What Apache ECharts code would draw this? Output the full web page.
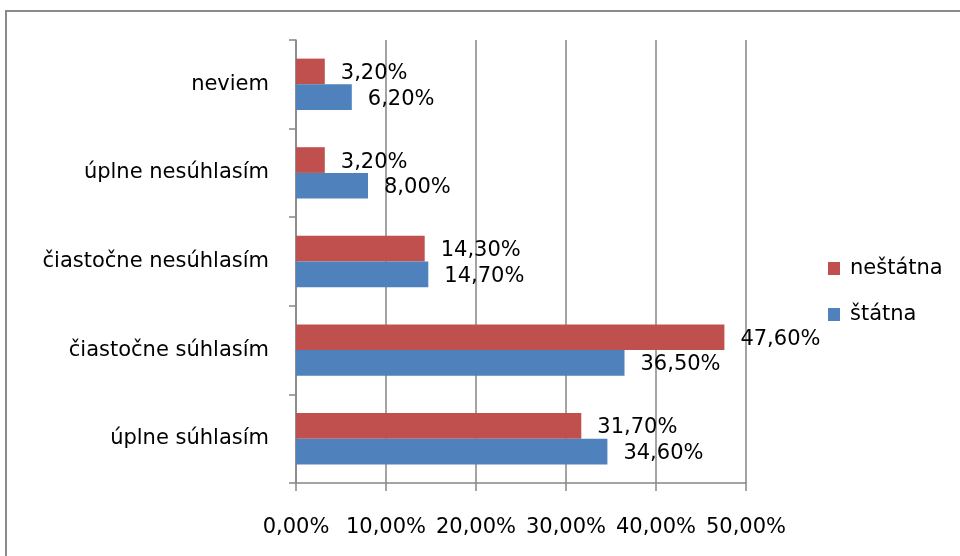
<!DOCTYPE html>
<html><head><meta charset="utf-8">
<script src="https://cdn.jsdelivr.net/npm/echarts@6/dist/echarts.min.js"></script>
<style>html,body{margin:0;padding:0;background:#fff}#c{width:960px;height:556px}</style>
</head><body><div id="c"></div>
<script>
const categories = ['úplne súhlasím', 'čiastočne súhlasím', 'čiastočne nesúhlasím', 'úplne nesúhlasím', 'neviem'];
const statna = [34.6, 36.5, 14.7, 8.0, 6.2];
const nestatna = [31.7, 47.6, 14.3, 3.2, 3.2];
const seriesNames = ['štátna', 'neštátna'];
const xTicks = [0, 10, 20, 30, 40, 50];

const FONT = 'DejaVu Sans';
const fmt = v => v.toFixed(2).replace('.', ',') + '%';
const chart = echarts.init(document.getElementById('c'), null, {renderer: 'canvas'});
const labelCfg = {
  show: true, position: 'right', distance: 16, offset: [0, 2],
  color: '#000', fontFamily: FONT, fontSize: 21,
  formatter: p => fmt(p.value)
};
chart.setOption({
  animation: false,
  backgroundColor: '#fff',
  graphic: [{
    type: 'rect', shape: {x: 6, y: 11, width: 1000, height: 600},
    style: {fill: 'none', stroke: '#8a8a8a', lineWidth: 2}, z: -1
  }],
  grid: {left: 296, right: 214, top: 40, bottom: 73, containLabel: false},
  legend: {
    data: [seriesNames[1], seriesNames[0]],
    orient: 'vertical', left: 823, top: 253, itemGap: 25,
    itemWidth: 12, itemHeight: 13, icon: 'rect',
    textStyle: {fontFamily: FONT, fontSize: 21, color: '#000', padding: [0, 0, 0, 5]}
  },
  xAxis: {
    type: 'value', min: xTicks[0], max: xTicks[xTicks.length - 1], interval: 10,
    axisLine: {show: true, lineStyle: {color: '#868686', width: 1.5}},
    axisTick: {show: true, length: 8, lineStyle: {color: '#868686', width: 1.5}},
    splitLine: {show: true, lineStyle: {color: '#868686', width: 1.5}},
    axisLabel: {margin: 34, color: '#000', fontFamily: FONT, fontSize: 21, formatter: v => fmt(v)}
  },
  yAxis: {
    type: 'category', data: categories,
    axisLine: {show: true, lineStyle: {color: '#868686', width: 1.5}},
    axisTick: {show: true, length: 7, lineStyle: {color: '#868686', width: 1.5}},
    axisLabel: {margin: 27, color: '#000', fontFamily: FONT, fontSize: 21}
  },
  series: [
    {name: seriesNames[1], type: 'bar', data: nestatna, barGap: '0%', barCategoryGap: '42%',
     itemStyle: {color: '#C0504D'}, label: labelCfg},
    {name: seriesNames[0], type: 'bar', data: statna, barGap: '0%', barCategoryGap: '42%',
     itemStyle: {color: '#4F81BD'}, label: labelCfg}
  ]
});
</script></body></html>
